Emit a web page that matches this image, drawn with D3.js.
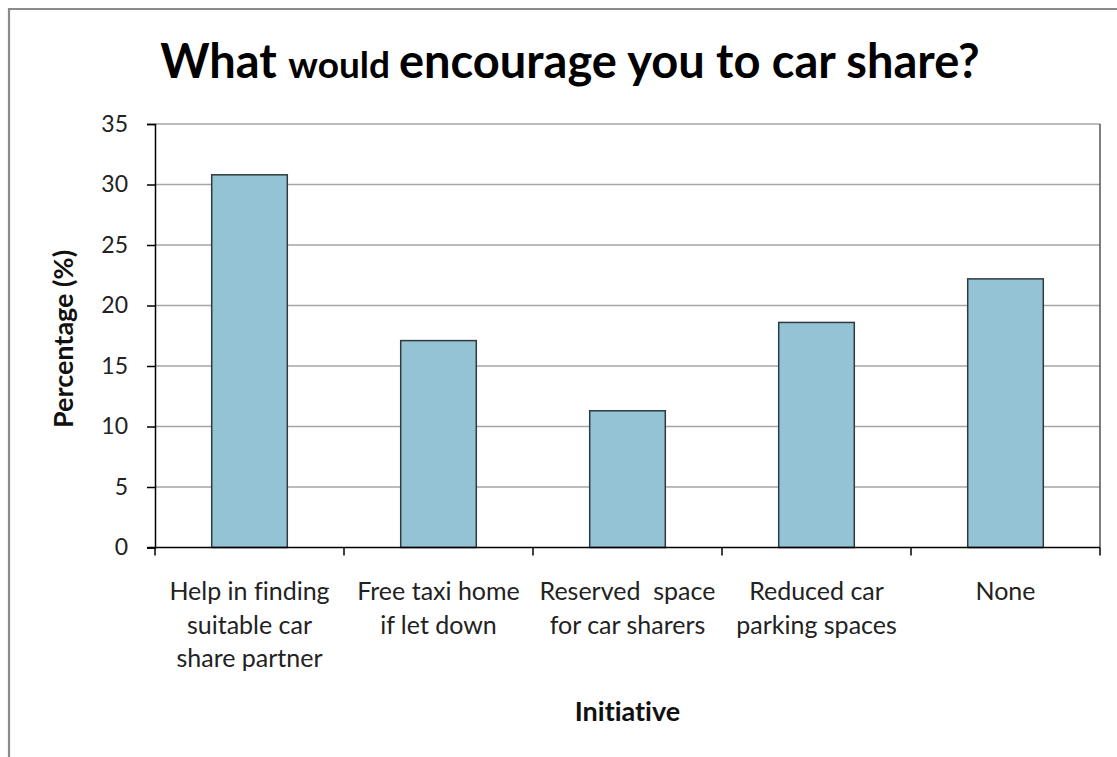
<!DOCTYPE html>
<html>
<head>
<meta charset="utf-8">
<script src="https://cdn.jsdelivr.net/npm/d3@7"></script>
<style>
  html, body { margin: 0; padding: 0; background: #fff; }
  svg { display: block; font-family: Lato, "Open Sans", sans-serif; }
  text { white-space: pre; font-variant-ligatures: none; font-feature-settings: "liga" 0, "clig" 0; }
</style>
</head>
<body>
<svg id="chart" width="1117" height="757"></svg>
<script>
// Survey results: which initiative would encourage car sharing
const categories = [
  ["Help in finding", "suitable car", "share partner"],
  ["Free taxi home", "if let down"],
  ["Reserved  space", "for car sharers"],
  ["Reduced car", "parking spaces"],
  ["None"]
];
const percentages = [30.8, 17.1, 11.3, 18.6, 22.2];
const yTicks = [0, 5, 10, 15, 20, 25, 30, 35];

const svg = d3.select("#chart");
const W = 1117, H = 757;
const plot = { left: 155, right: 1100, top: 124, bottom: 547.5 };

// outer chart frame
svg.append("path")
  .attr("d", `M9,${H} V9 H${W}`)
  .attr("fill", "none")
  .attr("stroke", "#8a8a8a")
  .attr("stroke-width", 2.2);

const x = d3.scaleBand()
  .domain(d3.range(categories.length))
  .range([plot.left, plot.right])
  .paddingInner(0.6)
  .paddingOuter(0.3);

const y = d3.scaleLinear().domain([0, 35]).range([plot.bottom, plot.top]);

// horizontal gridlines
svg.append("g")
  .selectAll("line")
  .data(yTicks.filter(d => d > 0))
  .join("line")
  .attr("x1", plot.left).attr("x2", plot.right)
  .attr("y1", d => y(d)).attr("y2", d => y(d))
  .attr("stroke", "#a6a6a6")
  .attr("stroke-width", 1.5);

// right edge of plot area
svg.append("line")
  .attr("x1", plot.right).attr("x2", plot.right)
  .attr("y1", plot.top).attr("y2", plot.bottom)
  .attr("stroke", "#555").attr("stroke-width", 1.5);

// bars
svg.append("g")
  .selectAll("rect")
  .data(percentages)
  .join("rect")
  .attr("x", (d, i) => x(i))
  .attr("width", x.bandwidth())
  .attr("y", d => y(d))
  .attr("height", d => y(0) - y(d))
  .attr("fill", "#93c3d4")
  .attr("stroke", "#2f3a3e")
  .attr("stroke-width", 1.5);

// y axis
const yAxis = svg.append("g")
  .attr("transform", `translate(${plot.left},0)`)
  .call(d3.axisLeft(y).tickValues(yTicks).tickSize(8).tickPadding(19));
yAxis.select(".domain").attr("stroke", "#000").attr("stroke-width", 1.5);
yAxis.selectAll(".tick line").attr("stroke", "#000").attr("stroke-width", 1.5);
yAxis.selectAll(".tick text")
  .attr("font-size", 23)
  .attr("fill", "#222")
  .attr("font-family", "Lato, sans-serif");

// x axis: baseline with boundary ticks between categories
const xBoundaries = d3.range(categories.length + 1)
  .map(i => plot.left + i * (plot.right - plot.left) / categories.length);
const xAxisG = svg.append("g");
xAxisG.append("line")
  .attr("x1", plot.left - 8).attr("x2", plot.right)
  .attr("y1", plot.bottom).attr("y2", plot.bottom)
  .attr("stroke", "#000").attr("stroke-width", 1.5);
xAxisG.selectAll("line.tick")
  .data(xBoundaries)
  .join("line")
  .attr("class", "tick")
  .attr("x1", d => d).attr("x2", d => d)
  .attr("y1", plot.bottom).attr("y2", plot.bottom + 8)
  .attr("stroke", "#000").attr("stroke-width", 1.5);

// category labels
const labels = svg.append("g")
  .selectAll("text")
  .data(categories)
  .join("text")
  .attr("text-anchor", "middle")
  .attr("font-size", 25)
  .attr("fill", "#222")
  .attr("transform", (d, i) => `translate(${x(i) + x.bandwidth() / 2},600)`);
labels.selectAll("tspan")
  .data(d => d)
  .join("tspan")
  .attr("x", 0)
  .attr("y", (d, j) => j * 33.5)
  .text(d => d);

// axis titles
svg.append("text")
  .attr("transform", "translate(73,339) rotate(-90)")
  .attr("text-anchor", "middle")
  .attr("font-size", 27)
  .attr("font-weight", "bold")
  .attr("fill", "#111")
  .text("Percentage (%)");

svg.append("text")
  .attr("x", (plot.left + plot.right) / 2)
  .attr("y", 721)
  .attr("text-anchor", "middle")
  .attr("font-size", 27)
  .attr("font-weight", "bold")
  .attr("fill", "#111")
  .text("Initiative");

// chart title with a smaller "would"
const title = svg.append("text")
  .attr("x", 570)
  .attr("y", 78)
  .attr("text-anchor", "middle")
  .attr("font-weight", "bold")
  .attr("fill", "#000");
title.append("tspan").attr("font-size", 47).text("What ");
title.append("tspan").attr("font-size", 37).text("would ");
title.append("tspan").attr("font-size", 47).text("encourage you to car share?");
</script>
</body>
</html>
